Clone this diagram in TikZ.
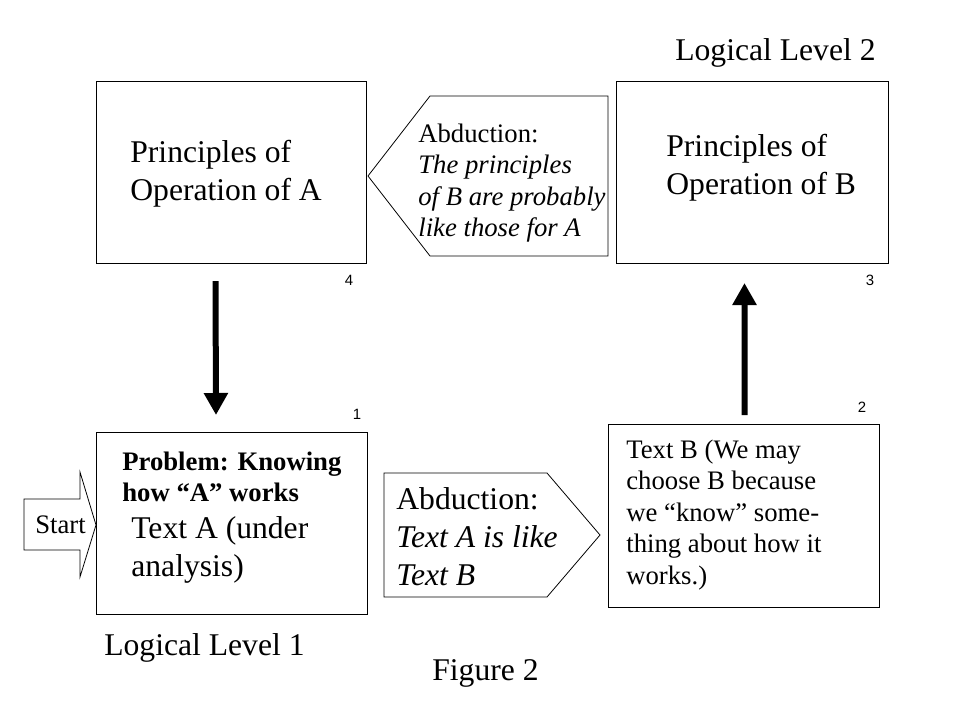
\documentclass[tikz,border=0pt]{standalone}
\usepackage{fontspec}
\setmainfont{Liberation Serif}
\newfontfamily\numfont{Liberation Sans}
\usetikzlibrary{arrows.meta}

\begin{document}
\begin{tikzpicture}[x=0.02cm,y=-0.02cm,
        box/.style={draw,line width=0.6pt,inner sep=0pt,anchor=north west},
        big/.style={font=\fontsize{18}{21.6}\selectfont,align=left,inner sep=0pt,anchor=west},
        mid/.style={font=\fontsize{15.2}{17.9}\selectfont,align=left,inner sep=0pt,anchor=west},
        num/.style={font=\numfont\fontsize{8.5}{10}\selectfont,inner sep=0pt},
        fat/.style={line width=0.12cm,-{Triangle[width=0.46cm,length=0.44cm]}},
        thinline/.style={line width=0.45pt}]
        \useasboundingbox (0,0) rectangle (959,719) ;
        %\draw[very thin,gray,step=50] (0,0) grid (959,719) ;
        % boxes
        \node[box,minimum width=5.4cm,minimum height=3.64cm] (opA) at (96,81) {} ;
        \node[box,minimum width=5.44cm,minimum height=3.64cm] (opB) at (616,81) {} ;
        \node[box,minimum width=5.42cm,minimum height=3.64cm] (textA) at (96,432) {} ;
        \node[box,minimum width=5.42cm,minimum height=3.66cm] (textB) at (608,424) {} ;
        % pentagons and start arrow
        \draw[thinline] (368,176)--(430,96)--(608,96)--(608,256)--(430,256)--cycle ;
        \draw[thinline] (384,473)--(547,473)--(600,535)--(547,597)--(384,597)--cycle ;
        \draw[thinline] (24,499)--(80,499)--(80,472)--(96,525)--(80,577)--(80,550)--(24,550)--cycle ;
        % big arrows
        \draw[fat] ([xshift=-0.32cm,yshift=-0.34cm]opA.south) -- ([xshift=-0.32cm,yshift=0.34cm]textA.north) ;
        \draw[fat] ([xshift=0.01cm,yshift=0.18cm]textB.north) -- ([xshift=-0.16cm,yshift=-0.38cm]opB.south) ;
        % texts
        \node[big] (lvl2) at (675,53) {Logical Level 2} ;
        \node[big] (prA) at (130,174) {Principles of\\Operation of A} ;
        \node[big] (prB) at (666,168) {Principles of\\Operation of B} ;
        \node[mid] (abdB) at (418,183) {Abduction:\\\textit{The principles}\\\textit{of B are probably}\\\textit{like those for A}} ;
        \node[mid,font=\fontsize{15.2}{17.6}\selectfont\bfseries] (prob) at (122,477) {Problem: Knowing\\how “A” works} ;
        \node[big,font=\fontsize{18}{22.1}\selectfont] (txA) at (131,550) {Text A (under\\analysis)} ;
        \node[mid] (start) at (35,525) {Start} ;
        \node[big] (abdA) at (396,537) {Abduction:\\\textit{Text A is like}\\\textit{Text B}} ;
        \node[mid] (txB) at (626,515) {Text B (We may\\choose B because\\we “know” some-\\thing about how it\\works.)} ;
        \node[big] (lvl1) at (104,648) {Logical Level 1} ;
        \node[big] (fig) at (432,673) {Figure 2} ;
        % corner numbers
        \node[num] (n4) at (349,280) {4} ;
        \node[num] (n3) at (870,280) {3} ;
        \node[num] (n1) at (357,414) {1} ;
        \node[num] (n2) at (862,407) {2} ;
\end{tikzpicture}
\end{document}
